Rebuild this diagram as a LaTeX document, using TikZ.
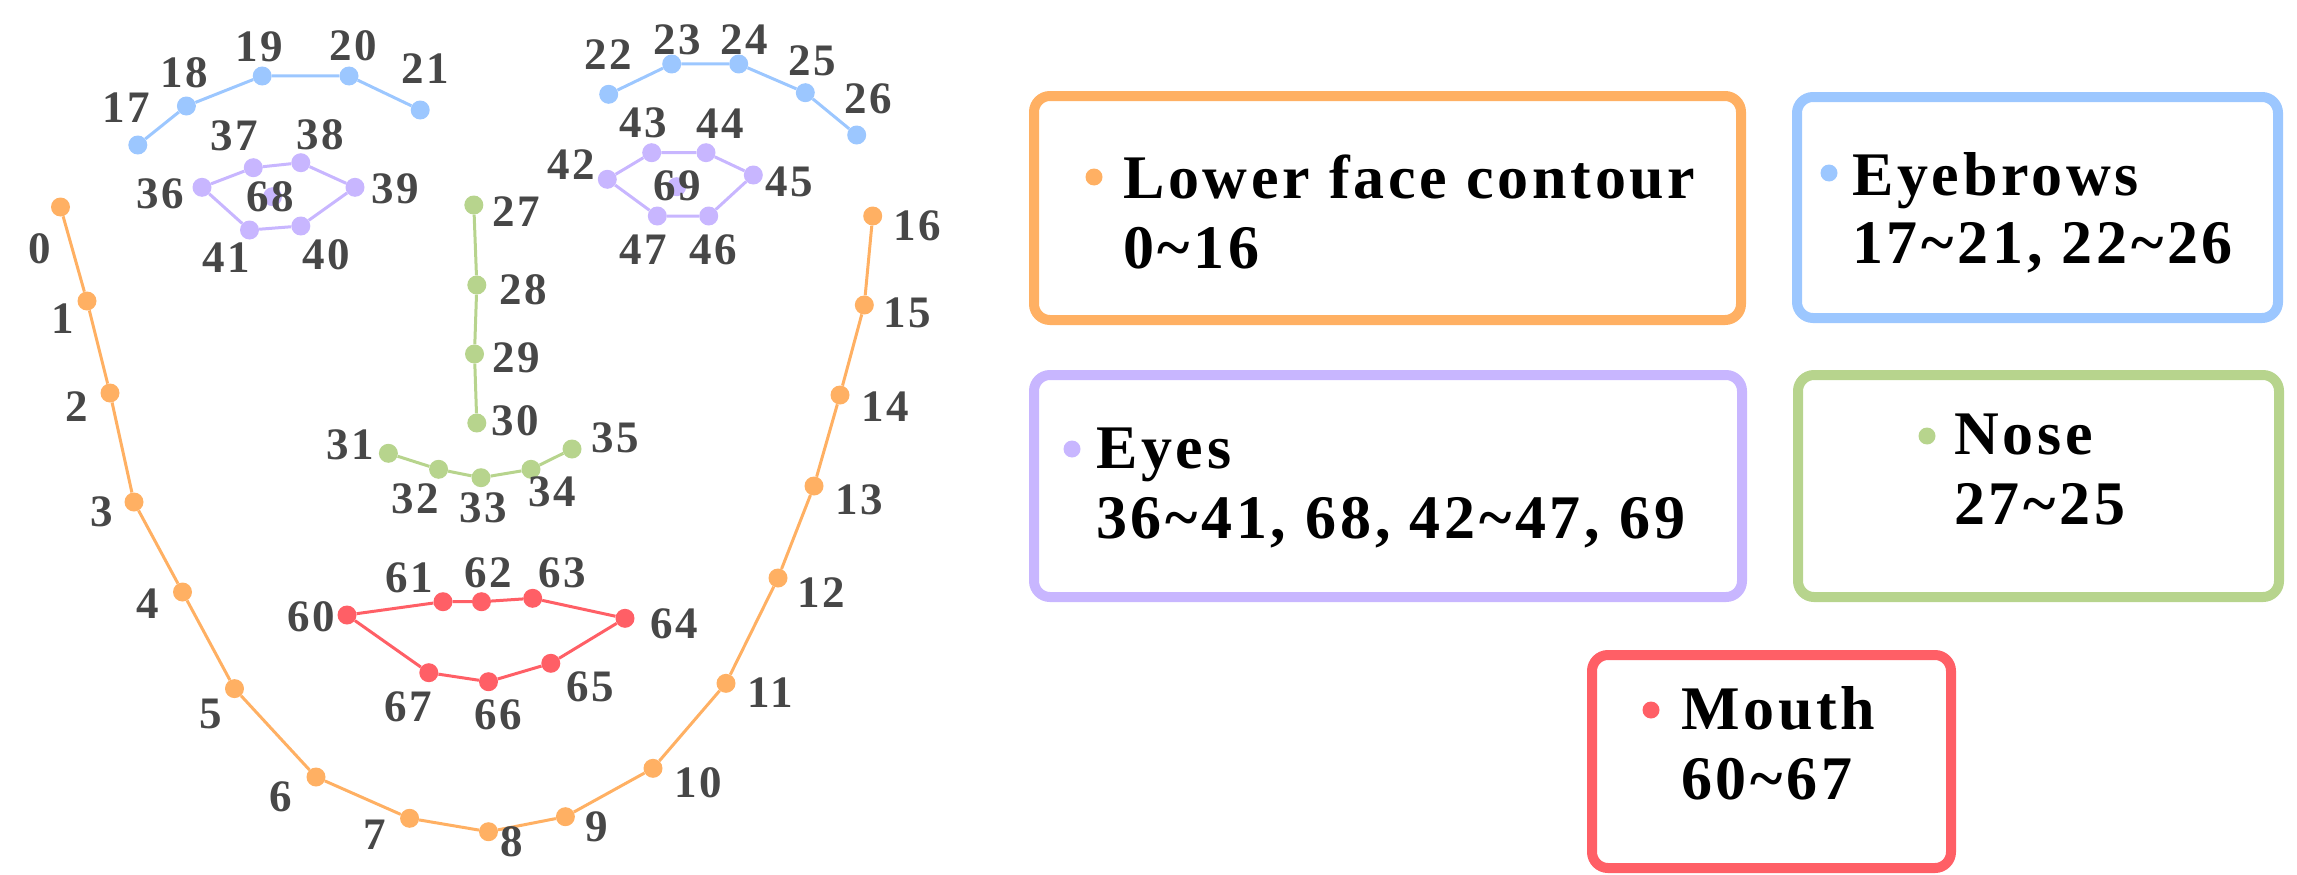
\documentclass[tikz,border=0pt]{standalone}
\usepackage{fontspec}
\setmainfont{Liberation Serif}
\newfontfamily\lblfont[LetterSpace=6]{Liberation Serif}
\newfontfamily\legfont[LetterSpace=6]{Liberation Serif}
\definecolor{cO}{HTML}{FFB063}
\definecolor{cB}{HTML}{9CC7FF}
\definecolor{cP}{HTML}{C8B6FF}
\definecolor{cG}{HTML}{B7D48D}
\definecolor{cR}{HTML}{FF5F66}
\definecolor{cLbl}{HTML}{474747}
\tikzset{
  dot/.style={circle, inner sep=0pt, minimum size=19pt, draw=none},
  num/.style={font=\lblfont\bfseries\fontsize{45}{45}\selectfont, text=cLbl, inner sep=0pt},
  cline/.style={line width=3pt},
  legbox/.style={line width=10pt, rounded corners=16pt},
  legtext/.style={font=\legfont\bfseries\fontsize{62}{62}\selectfont, text=black, inner sep=0pt, anchor=base west},
  bullet/.style={circle, inner sep=0pt, minimum size=17pt, draw=none}
}
\begin{document}
\begin{tikzpicture}[x=1pt,y=-1pt]
\useasboundingbox (0,0) rectangle (2297,875);
% ---------- points ----------
\foreach \i/\x/\y in {0/60.5/207,1/87/301,2/110/393,3/134/502,4/182.5/592,5/234.5/688.6,6/316/777,7/409.6/818.3,8/488.5/831.7,9/565.4/816.7,10/653/768.3,11/726/683.3,12/778/578,13/814/486,14/840/395,15/864.3/305,16/872.7/216}
  {\node[dot, fill=cO] (p\i) at (\x,\y) {};}
\foreach \i/\x/\y in {17/137.8/145,18/186.4/106,19/262.2/76,20/349/76,21/420.2/110,22/608.7/94.3,23/671.7/64,24/738.7/64,25/805.3/92.7,26/856.7/135}
  {\node[dot, fill=cB] (p\i) at (\x,\y) {};}
\foreach \i/\x/\y in {36/202/187.3,37/253.3/167.7,38/300.8/162.7,39/355/187.3,40/300.8/226,41/249.5/230,68/272.5/196.7,42/607.3/179.3,43/651.7/152.7,44/706/152.7,45/753.3/175,46/708.7/216,47/657.3/216,69/676.7/186.7}
  {\node[dot, fill=cP] (p\i) at (\x,\y) {};}
\foreach \i/\x/\y in {27/473.8/205,28/476.8/285,29/474.5/354,30/476.8/423,31/388.4/453.3,32/438.6/469.3,33/481/477.7,34/531/469.3,35/572/449}
  {\node[dot, fill=cG] (p\i) at (\x,\y) {};}
\foreach \i/\x/\y in {60/347/615,61/443/601.7,62/481.5/601.7,63/532.7/598.3,64/625/618.3,65/550.8/663.3,66/488.5/681.7,67/428.8/672.7}
  {\node[dot, fill=cR] (p\i) at (\x,\y) {};}
% ---------- connectors ----------
\draw[cline, cO] (p0) -- (p1) -- (p2) -- (p3) -- (p4) -- (p5) -- (p6) -- (p7) -- (p8) -- (p9) -- (p10) -- (p11) -- (p12) -- (p13) -- (p14) -- (p15) -- (p16);
\draw[cline, cB] (p17) -- (p18) -- (p19) -- (p20) -- (p21);
\draw[cline, cB] (p22) -- (p23) -- (p24) -- (p25) -- (p26);
\draw[cline, cP] (p36) -- (p37) -- (p38) -- (p39) -- (p40) -- (p41) -- (p36);
\draw[cline, cP] (p42) -- (p43) -- (p44) -- (p45) -- (p46) -- (p47) -- (p42);
\draw[cline, cG] (p27) -- (p28) -- (p29) -- (p30);
\draw[cline, cG] (p31) -- (p32) -- (p33) -- (p34) -- (p35);
\draw[cline, cR] (p60) -- (p61) -- (p62) -- (p63) -- (p64) -- (p65) -- (p66) -- (p67) -- (p60);
% ---------- labels ----------
\foreach \i/\x/\y in {0/40/249,1/63/319,2/76.5/407,3/101.4/512,4/148/604,5/211/714,6/281/797,7/375/835,8/512/842,9/597/827,10/698/783,11/770/693,12/821/593,13/859/500,14/885/407,15/907/313,16/917/226,
  17/126/108,18/184/73,19/259.5/47,20/353/46,21/425/69,22/608/55,23/677/40,24/744/40,25/812/61,26/868/99,
  36/160/194,37/234/136,38/320/135,39/395/189,40/326/255,41/226/258,68/270/197,42/571/165,43/643/123,44/720/124,45/789/182,46/713/250,47/643/250,69/677/186,
  27/516/212,28/523/290,29/516/358,30/515/421,31/350/445,32/415/499,33/483/508,34/552/492,35/615/438,
  60/311/617,61/409.5/578,62/488/573,63/562.6/573,64/674/624,65/590.4/687,66/498/715,67/408.5/707}
  {\node[num] (l\i) at (\x,\y) {\i};}
% ---------- legend ----------
\draw[legbox, cO] (1034,96) rectangle (1741,320);
\draw[legbox, cB] (1797,97) rectangle (2278,318);
\draw[legbox, cP] (1034,375) rectangle (1742,597);
\draw[legbox, cG] (1798,375) rectangle (2279,597);
\draw[legbox, cR] (1592,655) rectangle (1951,868);
\node[bullet, fill=cO] (bO) at (1094,177) {};
\node[legtext] (tO1) at (1123,198) {Lower face contour};
\node[legtext] (tO2) at (1123,268) {0\textasciitilde16};
\node[bullet, fill=cB] (bB) at (1829,173) {};
\node[legtext] (tB1) at (1852,195) {Eyebrows};
\node[legtext] (tB2) at (1852,263) {17\textasciitilde21, 22\textasciitilde26};
\node[bullet, fill=cP] (bP) at (1072,449) {};
\node[legtext] (tP1) at (1096,468) {Eyes};
\node[legtext] (tP2) at (1096,538) {36\textasciitilde41, 68, 42\textasciitilde47, 69};
\node[bullet, fill=cG] (bG) at (1927,436) {};
\node[legtext] (tG1) at (1954,454) {Nose};
\node[legtext] (tG2) at (1954,524) {27\textasciitilde25};
\node[bullet, fill=cR] (bR) at (1651,710) {};
\node[legtext] (tR1) at (1681,729) {Mouth};
\node[legtext] (tR2) at (1681,799) {60\textasciitilde67};
\end{tikzpicture}
\end{document}
